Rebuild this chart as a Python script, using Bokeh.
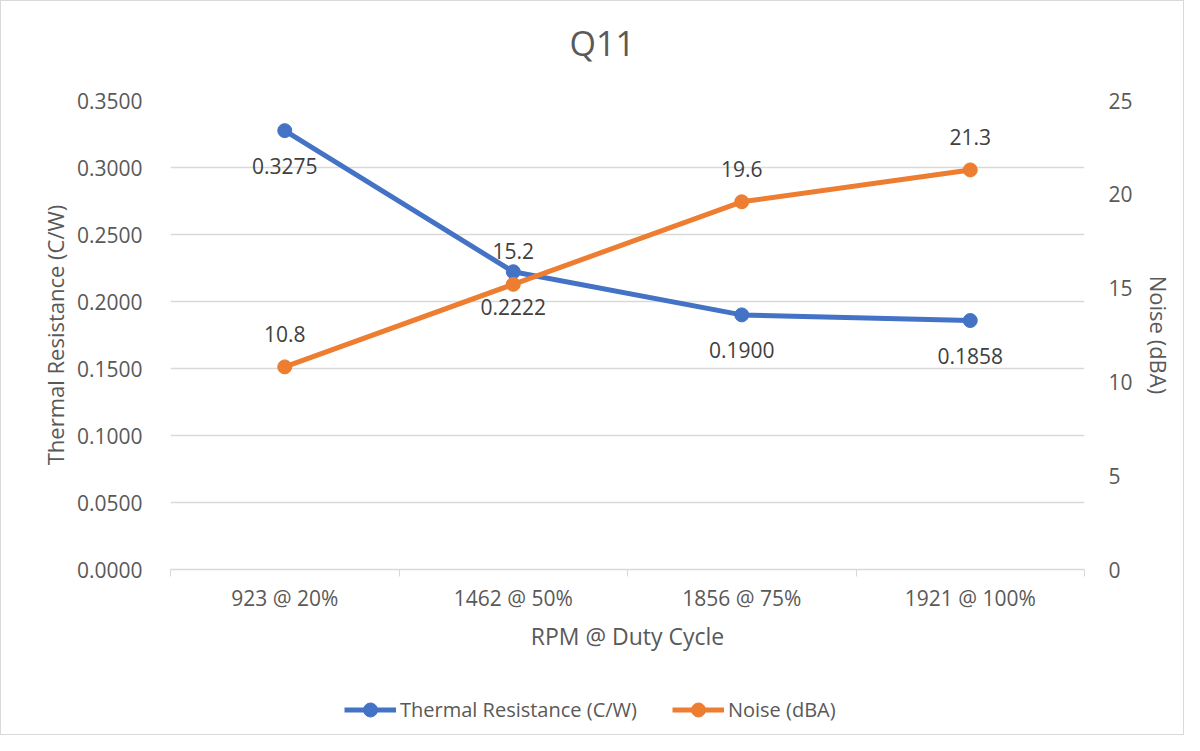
from bokeh.plotting import figure
from bokeh.layouts import column
from bokeh.models import (Range1d, LinearAxis, FixedTicker, ColumnDataSource, LabelSet,
                          Legend, LegendItem, PrintfTickFormatter)
from bokeh.core.properties import value
from bokeh.embed import file_html
from bokeh.resources import INLINE

categories = ["923 @ 20%", "1462 @ 50%", "1856 @ 75%", "1921 @ 100%"]
thermal = [0.3275, 0.2222, 0.1900, 0.1858]
noise = [10.8, 15.2, 19.6, 21.3]
left_ticks = [0.0, 0.05, 0.10, 0.15, 0.20, 0.25, 0.30, 0.35]
right_ticks = [0, 5, 10, 15, 20, 25]
series_names = ["Thermal Resistance (C/W)", "Noise (dBA)"]
chart_title = "Q11"

FONT = "Open Sans"
GREY = "#595959"
BLUE = "#4472C4"
ORANGE = "#ED7D31"
TICK_FS = "21px"

n = len(categories)
xs = [i + 0.5 for i in range(n)]

src = ColumnDataSource(dict(
    x=xs, t=thermal, nz=noise,
    tl=["%.4f" % v for v in thermal],
    nl=["%.1f" % v for v in noise],
))

# title strip
ts = figure(width=1182, height=83, output_backend="svg", toolbar_location=None,
            x_range=Range1d(0, 1), y_range=Range1d(0, 1),
            x_axis_type=None, y_axis_type=None, min_border=0)
ts.outline_line_color = None
ts.xgrid.visible = False
ts.ygrid.visible = False
ts.title.text = chart_title
ts.title.align = "left"
ts.title.offset = 399
ts.title.text_font = FONT
ts.title.text_font_size = "34px"
ts.title.text_font_style = "normal"
ts.title.text_color = GREY
ts.title.standoff = 33

p = figure(width=1182, height=582, output_backend="svg", toolbar_location=None,
           x_range=Range1d(0, n), y_range=Range1d(0, 0.35),
           min_border_left=169, min_border_right=99, min_border_top=16, min_border_bottom=97)
p.outline_line_color = None
p.background_fill_color = "white"
p.border_fill_color = "white"

p.extra_y_ranges = {"noise": Range1d(0, 25)}

# bottom axis
xa = p.xaxis[0]
xa.ticker = FixedTicker(ticks=xs, minor_ticks=list(range(n + 1)))
xa.major_label_overrides = {x: c for x, c in zip(xs, categories)}
xa.major_tick_out = 0
xa.major_tick_in = 0
xa.minor_tick_out = 7
xa.minor_tick_in = 0
xa.minor_tick_line_color = "#d9d9d9"
xa.axis_line_color = "#d9d9d9"
xa.axis_line_width = 1.5
xa.major_label_text_font = FONT
xa.major_label_text_font_size = TICK_FS
xa.major_label_text_color = GREY
xa.major_label_standoff = 7
xa.axis_label = "RPM @ Duty Cycle"
xa.axis_label_text_font = FONT
xa.axis_label_text_font_size = "23px"
xa.axis_label_text_font_style = "normal"
xa.axis_label_text_color = GREY
xa.axis_label_standoff = 5

# left axis
ya = p.yaxis[0]
ya.ticker = FixedTicker(ticks=left_ticks)
ya.formatter = PrintfTickFormatter(format="%.4f")
ya.major_tick_out = 0
ya.major_tick_in = 0
ya.minor_tick_line_color = None
ya.axis_line_color = None
ya.major_label_text_font = FONT
ya.major_label_text_font_size = TICK_FS
ya.major_label_text_color = GREY
ya.major_label_standoff = 28
ya.axis_label = series_names[0]
ya.axis_label_text_font = FONT
ya.axis_label_text_font_size = "22px"
ya.axis_label_text_font_style = "normal"
ya.axis_label_text_color = GREY
ya.axis_label_standoff = 4

ra = LinearAxis(y_range_name="noise", ticker=FixedTicker(ticks=right_ticks))
ra.major_tick_out = 0
ra.major_tick_in = 0
ra.minor_tick_line_color = None
ra.axis_line_color = None
ra.major_label_text_font = FONT
ra.major_label_text_font_size = TICK_FS
ra.major_label_text_color = GREY
ra.major_label_standoff = 24
ra.axis_label = series_names[1]
ra.axis_label_text_font = FONT
ra.axis_label_text_font_size = "22px"
ra.axis_label_text_font_style = "normal"
ra.axis_label_text_color = GREY
ra.axis_label_standoff = 8
p.add_layout(ra, "right")

p.xgrid.visible = False
p.ygrid.grid_line_color = "#d9d9d9"
p.ygrid.grid_line_width = 1.5
p.ygrid.ticker = FixedTicker(ticks=left_ticks)

p.line("x", "t", source=src, line_color=BLUE, line_width=5)
p.scatter("x", "t", source=src, size=14, fill_color=BLUE, line_color=BLUE)
p.line("x", "nz", source=src, line_color=ORANGE, line_width=5, y_range_name="noise")
p.scatter("x", "nz", source=src, size=14, fill_color=ORANGE, line_color=ORANGE, y_range_name="noise")

lab1 = LabelSet(x="x", y="t", text="tl", source=src, y_offset=-35, text_align="center",
                text_baseline="middle", text_font=value(FONT), text_font_size=TICK_FS,
                text_color="#404040")
lab2 = LabelSet(x="x", y="nz", text="nl", source=src, y_offset=33, text_align="center",
                text_baseline="middle", text_font=value(FONT), text_font_size=TICK_FS,
                text_color="#404040", y_range_name="noise")
p.add_layout(lab1)
p.add_layout(lab2)

# legend strip: a separate figure whose renderers lie outside its view and only supply legend glyphs
lg = figure(width=1182, height=68, output_backend="svg", toolbar_location=None,
            x_range=Range1d(0, 1), y_range=Range1d(-2, -1),
            x_axis_type=None, y_axis_type=None, min_border=0)
lg.outline_line_color = None
lg.xgrid.visible = False
lg.ygrid.visible = False
r1 = lg.line("x", "t", source=src, line_color=BLUE, line_width=5)
m1 = lg.scatter("x", "t", source=src, size=14, fill_color=BLUE, line_color=BLUE)
r2 = lg.line("x", "t", source=src, line_color=ORANGE, line_width=5)
m2 = lg.scatter("x", "t", source=src, size=14, fill_color=ORANGE, line_color=ORANGE)

legend = Legend(items=[LegendItem(label=series_names[0], renderers=[r1, m1]),
                       LegendItem(label=series_names[1], renderers=[r2, m2])],
                orientation="horizontal", location=(174, 7))
legend.glyph_width = 52
legend.glyph_height = 35
legend.label_standoff = 4
legend.spacing = 35
legend.label_text_font = FONT
legend.label_text_font_size = "20px"
legend.label_text_color = GREY
legend.border_line_color = None
legend.background_fill_alpha = 0
legend.margin = 0
legend.padding = 0
lg.add_layout(legend)

layout = column(ts, p, lg, spacing=0, styles={"border": "1px solid #d9d9d9"})

open("out.html", "w").write(file_html(layout, INLINE))
